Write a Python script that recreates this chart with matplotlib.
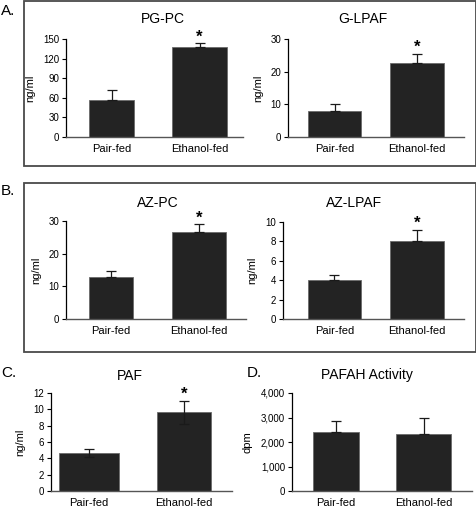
import matplotlib
matplotlib.use("Agg")
import matplotlib.pyplot as plt
from matplotlib.patches import Rectangle
from matplotlib.ticker import FuncFormatter

plt.rcParams['font.family'] = ['Liberation Sans', 'DejaVu Sans']

# data
cats = ['Pair-fed', 'Ethanol-fed']
pgpc_mean = [57, 138]
pgpc_err = [15, 6]
glpaf_mean = [8, 22.6]
glpaf_err = [2, 2.9]
azpc_mean = [12.8, 26.7]
azpc_err = [2.0, 2.3]
azlpaf_mean = [4.0, 8.0]
azlpaf_err = [0.5, 1.2]
paf_mean = [4.7, 9.65]
paf_err = [0.5, 1.4]
pafah_mean = [2390, 2320]
pafah_err = [460, 680]
signif = [False, True]
no_signif = [False, False]

W, H = 477, 507
fig = plt.figure(figsize=(W / 100, H / 100), dpi=100)


def px_axes(l, t, r, b):
    return fig.add_axes([l / W, 1 - b / H, (r - l) / W, (b - t) / H])


def fig_text(x, y, s, **kw):
    fig.text(x / W, 1 - y / H, s, **kw)


def panel(box, mean, err, ylim, step, xlim, widths, title, tpos, ylabel,
          labx, stars, both_sides=False, fmt=None):
    ax = px_axes(*box)
    x = list(range(len(cats)))
    ax.bar(x, mean, width=widths, color='#232323', edgecolor='#6a6a6a',
           linewidth=0.6, zorder=2)
    lower = err if both_sides else [0] * len(err)
    ax.errorbar(x, mean, yerr=[lower, err], fmt='none', ecolor='#1a1a1a',
                elinewidth=0.9, capsize=3.5, capthick=0.9, zorder=3)
    for xi, m, e, s in zip(x, mean, err, stars):
        if s:
            ax.annotate('*', (xi, m + e), xytext=(0, -1),
                        textcoords='offset points', ha='center', va='bottom',
                        fontsize=12, fontweight='bold')
    ax.set_xlim(*xlim)
    ax.set_ylim(*ylim)
    ax.set_yticks([v * step for v in range(int(ylim[1] / step) + 1)])
    if fmt:
        ax.yaxis.set_major_formatter(FuncFormatter(fmt))
    ax.set_xticks(x)
    ax.set_xticklabels(cats, fontsize=8)
    ax.tick_params(axis='x', length=0, pad=5)
    ax.tick_params(axis='y', labelsize=7, length=3, width=0.8, pad=2,
                   direction='out')
    for sp in ['top', 'right']:
        ax.spines[sp].set_visible(False)
    ax.spines['left'].set_linewidth(0.9)
    ax.spines['bottom'].set_linewidth(1.0)
    ax.spines['bottom'].set_color('#555555')
    ax.patch.set_alpha(0)
    ax.set_ylabel(ylabel, fontsize=8)
    ax.yaxis.set_label_coords(labx, 0.5)
    fig_text(tpos[0], tpos[1], title, ha='center', va='center', fontsize=10)
    return ax


# panel boxes
for (l, t, r, b) in [(24, 1, 476, 166), (24, 183, 476, 352)]:
    fig.patches.append(Rectangle((l / W, 1 - b / H), (r - l) / W, (b - t) / H,
                                 transform=fig.transFigure, fill=False,
                                 edgecolor='#4a4a4a', linewidth=1.3))

panel((66, 39, 243, 137), pgpc_mean, pgpc_err, (0, 150), 30,
      (-0.517, 1.494), [0.51, 0.625], 'PG-PC', (163, 19), 'ng/ml', -0.175,
      signif)
panel((288, 39, 464, 137), glpaf_mean, glpaf_err, (0, 30), 10,
      (-0.564, 1.570), [0.64, 0.655], 'G-LPAF', (363, 19), 'ng/ml', -0.14,
      signif)
panel((66, 221, 246, 319), azpc_mean, azpc_err, (0, 30), 10,
      (-0.511, 1.534), [0.5, 0.614], 'AZ-PC', (158, 203), 'ng/ml', -0.14,
      signif)
panel((283, 222, 464, 319), azlpaf_mean, azlpaf_err, (0, 10), 2,
      (-0.624, 1.570), [0.64, 0.655], 'AZ-LPAF', (354, 203), 'ng/ml', -0.14,
      signif)
panel((51, 393, 232, 491), paf_mean, paf_err, (0, 12), 2,
      (-0.4, 1.505), [0.63, 0.57], 'PAF', (130, 376), 'ng/ml', -0.14,
      signif, both_sides=True)
panel((292, 393, 472, 491), pafah_mean, pafah_err, (0, 4000), 1000,
      (-0.503, 1.554), [0.526, 0.63], 'PAFAH Activity', (367, 375), 'dpm',
      -0.22, no_signif, fmt=lambda v, p: '{:,.0f}'.format(v))

# panel letters
for s, (x, y) in zip(['A.', 'B.', 'C.', 'D.'],
                     [(1, 11), (1, 191), (1, 373), (247, 373)]):
    fig_text(x, y, s, ha='left', va='center', fontsize=11)

fig.savefig('out.png', dpi=100)
